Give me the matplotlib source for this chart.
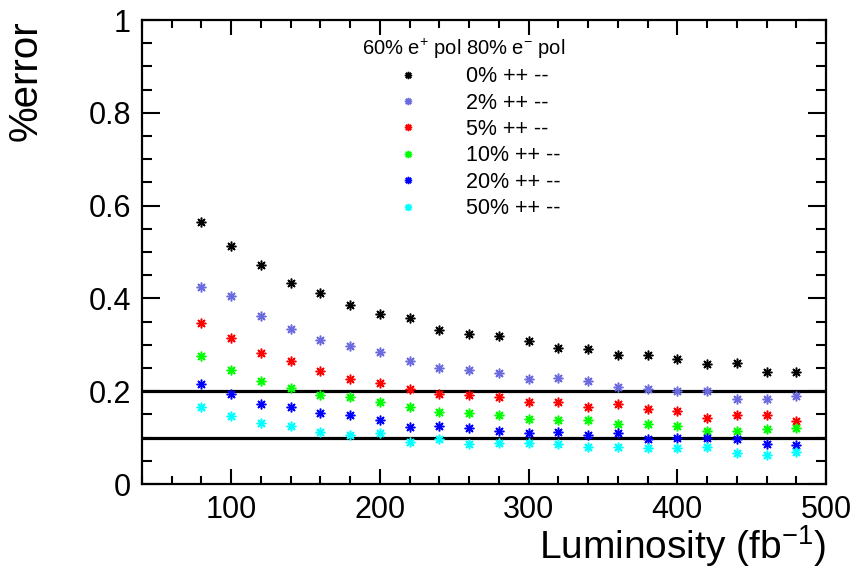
import matplotlib
matplotlib.use("Agg")
import matplotlib.pyplot as plt
from matplotlib.ticker import MultipleLocator

plt.rcParams['font.family'] = ['Liberation Sans', 'DejaVu Sans']
plt.rcParams['mathtext.fontset'] = 'custom'
plt.rcParams['mathtext.rm'] = 'Liberation Sans'
plt.rcParams['mathtext.it'] = 'Liberation Sans:italic'

# luminosity points (fb^-1)
lumi = [80, 100, 120, 140, 160, 180, 200, 220, 240, 260, 280,
        300, 320, 340, 360, 380, 400, 420, 440, 460, 480]

# %error for each wrong-sign fraction
err_0 = [0.565, 0.514, 0.471, 0.434, 0.411, 0.385, 0.366, 0.358, 0.331, 0.323, 0.320,
         0.308, 0.294, 0.291, 0.277, 0.277, 0.269, 0.258, 0.260, 0.242, 0.242]
err_2 = [0.425, 0.405, 0.363, 0.334, 0.311, 0.297, 0.285, 0.265, 0.251, 0.246, 0.240,
         0.226, 0.228, 0.221, 0.208, 0.205, 0.200, 0.200, 0.183, 0.183, 0.189]
err_5 = [0.346, 0.315, 0.283, 0.266, 0.243, 0.226, 0.218, 0.205, 0.194, 0.191, 0.188,
         0.177, 0.177, 0.166, 0.172, 0.161, 0.158, 0.142, 0.149, 0.149, 0.135]
err_10 = [0.275, 0.246, 0.223, 0.206, 0.191, 0.188, 0.177, 0.166, 0.155, 0.152, 0.149,
          0.140, 0.138, 0.138, 0.129, 0.129, 0.126, 0.115, 0.115, 0.118, 0.120]
err_20 = [0.216, 0.195, 0.172, 0.166, 0.152, 0.149, 0.137, 0.123, 0.126, 0.120, 0.115,
          0.109, 0.112, 0.106, 0.109, 0.096, 0.100, 0.100, 0.096, 0.086, 0.083]
err_50 = [0.166, 0.146, 0.131, 0.126, 0.112, 0.106, 0.109, 0.091, 0.096, 0.086, 0.089,
          0.089, 0.086, 0.080, 0.080, 0.077, 0.077, 0.080, 0.066, 0.062, 0.068]

series = [err_0, err_2, err_5, err_10, err_20, err_50]
labels = ["0% ++ --", "2% ++ --", "5% ++ --", "10% ++ --", "20% ++ --", "50% ++ --"]
colors = ["black", "#6b6bdf", "#ff0000", "#00ff00", "#0000ff", "#00ffff"]

ref_lines = [0.1, 0.2]

fig = plt.figure(figsize=(8.57, 5.76), dpi=100)
ax = fig.add_axes([142 / 857, 92 / 576, 684 / 857, 464 / 576])

for vals, lab, col in zip(series, labels, colors):
    ax.plot(lumi, vals, linestyle='none', marker=(8, 2, 0), markersize=7,
            markeredgewidth=1.1, color=col, label=lab)

for yl in ref_lines:
    ax.axhline(yl, color='black', linewidth=2.3, zorder=1)

ax.set_xlim(40, 500)
ax.set_ylim(0, 1)
ax.xaxis.set_major_locator(MultipleLocator(100))
ax.xaxis.set_minor_locator(MultipleLocator(20))
ax.yaxis.set_major_locator(MultipleLocator(0.2))
ax.yaxis.set_minor_locator(MultipleLocator(0.05))
ax.set_yticks([0, 0.2, 0.4, 0.6, 0.8, 1.0])
ax.set_yticklabels(["0", "0.2", "0.4", "0.6", "0.8", "1"])

ax.tick_params(axis='both', which='both', direction='in', top=True, right=True,
               labelsize=22, width=1.5)
ax.tick_params(axis='y', which='major', length=13, pad=8)
ax.tick_params(axis='y', which='minor', length=7)
ax.tick_params(axis='x', which='major', length=11, pad=8)
ax.tick_params(axis='x', which='minor', length=6)
for sp in ax.spines.values():
    sp.set_linewidth(1.6)

ax.set_xlabel("Luminosity (fb$^{-1}$)", fontsize=28, loc='right')
ax.xaxis.set_label_coords(1.0, -0.085)
ax.set_ylabel("%error", fontsize=29, loc='top')
ax.yaxis.set_label_coords(-0.142, 1.0)

leg = ax.legend(loc='upper left', bbox_to_anchor=(0.3216, 0.964), frameon=False,
                fontsize=15.5, title="60% e$^{+}$ pol 80% e$^{-}$ pol",
                title_fontsize=14.5, handlelength=4.3, handletextpad=0.55,
                labelspacing=0.25, markerscale=0.75, borderpad=0,
                borderaxespad=0)
leg._legend_box.align = "left"

fig.savefig("out.png", dpi=100)
